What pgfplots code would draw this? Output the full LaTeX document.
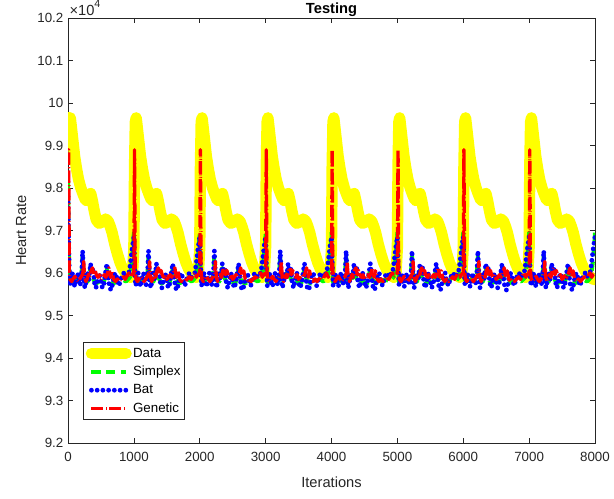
\documentclass[border=0pt]{standalone}
\usepackage{fontspec}
\setmainfont{Liberation Sans}
\usepackage{pgfplots}
\pgfplotsset{compat=1.18}
\usetikzlibrary{calc}
\definecolor{axgray}{gray}{0.15}
\begin{document}
\begin{tikzpicture}
\begin{axis}[
  name=ax,
  scale only axis,
  width=395.25pt, height=318.75pt,
  xmin=0, xmax=8000, ymin=9.2, ymax=10.2,
  xtick={0,1000,2000,3000,4000,5000,6000,7000,8000},
  xticklabels={0,1000,2000,3000,4000,5000,6000,7000,8000},
  ytick={9.2,9.3,9.4,9.5,9.6,9.7,9.8,9.9,10,10.1,10.2},
  yticklabels={9.2,9.3,9.4,9.5,9.6,9.7,9.8,9.9,10,10.1,10.2},
  tick align=inside, xtick pos=both, ytick pos=both,
  major tick length=3.75pt,
  axis line style={axgray, line width=0.5pt},
  every tick/.style={axgray, line width=0.5pt},
  ticklabel style={font=\fontsize{10}{12}\selectfont, text=axgray},
  xticklabel style={yshift=-3.5pt},
  legend image code/.code={\draw[#1] (0pt,0pt) -- (26pt,0pt);},
  legend cell align=left,
  legend style={at={(rel axis cs:0.028,0.054)}, anchor=south west, draw=axgray, line width=0.5pt, fill=white, font=\fontsize{10}{12}\selectfont, row sep=1.2pt, inner sep=2pt, nodes={inner xsep=1pt}},
]
\addplot[color={rgb,1:red,1;green,1;blue,0}, line width=8.5pt, line join=round, line cap=round] coordinates {
(0,9.965)(35,9.965)(50,9.945)(75,9.91)(100,9.875)(130,9.845)(160,9.82)(195,9.80)(230,9.785)(265,9.772)(295,9.77)(320,9.78)(345,9.787)(370,9.77)(400,9.745)(430,9.725)(470,9.717)(520,9.72)(570,9.727)(610,9.722)(640,9.71)(670,9.695)(710,9.668)(750,9.645)(790,9.625)(830,9.61)(870,9.60)(910,9.594)(945,9.59)(980,9.60)
(1000,9.66)(1010,9.85)(1022,9.955)(1035,9.965)(1050,9.945)(1075,9.91)(1100,9.875)(1130,9.845)(1160,9.82)(1195,9.80)(1230,9.785)(1265,9.772)(1295,9.77)(1320,9.78)(1345,9.787)(1370,9.77)(1400,9.745)(1430,9.725)(1470,9.717)(1520,9.72)(1570,9.727)(1610,9.722)(1640,9.71)(1670,9.695)(1710,9.668)(1750,9.645)(1790,9.625)(1830,9.61)(1870,9.60)(1910,9.594)(1945,9.59)(1980,9.60)
(2000,9.66)(2010,9.85)(2022,9.955)(2035,9.965)(2050,9.945)(2075,9.91)(2100,9.875)(2130,9.845)(2160,9.82)(2195,9.80)(2230,9.785)(2265,9.772)(2295,9.77)(2320,9.78)(2345,9.787)(2370,9.77)(2400,9.745)(2430,9.725)(2470,9.717)(2520,9.72)(2570,9.727)(2610,9.722)(2640,9.71)(2670,9.695)(2710,9.668)(2750,9.645)(2790,9.625)(2830,9.61)(2870,9.60)(2910,9.594)(2945,9.59)(2980,9.60)
(3000,9.66)(3010,9.85)(3022,9.955)(3035,9.965)(3050,9.945)(3075,9.91)(3100,9.875)(3130,9.845)(3160,9.82)(3195,9.80)(3230,9.785)(3265,9.772)(3295,9.77)(3320,9.78)(3345,9.787)(3370,9.77)(3400,9.745)(3430,9.725)(3470,9.717)(3520,9.72)(3570,9.727)(3610,9.722)(3640,9.71)(3670,9.695)(3710,9.668)(3750,9.645)(3790,9.625)(3830,9.61)(3870,9.60)(3910,9.594)(3945,9.59)(3980,9.60)
(4000,9.66)(4010,9.85)(4022,9.955)(4035,9.965)(4050,9.945)(4075,9.91)(4100,9.875)(4130,9.845)(4160,9.82)(4195,9.80)(4230,9.785)(4265,9.772)(4295,9.77)(4320,9.78)(4345,9.787)(4370,9.77)(4400,9.745)(4430,9.725)(4470,9.717)(4520,9.72)(4570,9.727)(4610,9.722)(4640,9.71)(4670,9.695)(4710,9.668)(4750,9.645)(4790,9.625)(4830,9.61)(4870,9.60)(4910,9.594)(4945,9.59)(4980,9.60)
(5000,9.66)(5010,9.85)(5022,9.955)(5035,9.965)(5050,9.945)(5075,9.91)(5100,9.875)(5130,9.845)(5160,9.82)(5195,9.80)(5230,9.785)(5265,9.772)(5295,9.77)(5320,9.78)(5345,9.787)(5370,9.77)(5400,9.745)(5430,9.725)(5470,9.717)(5520,9.72)(5570,9.727)(5610,9.722)(5640,9.71)(5670,9.695)(5710,9.668)(5750,9.645)(5790,9.625)(5830,9.61)(5870,9.60)(5910,9.594)(5945,9.59)(5980,9.60)
(6000,9.66)(6010,9.85)(6022,9.955)(6035,9.965)(6050,9.945)(6075,9.91)(6100,9.875)(6130,9.845)(6160,9.82)(6195,9.80)(6230,9.785)(6265,9.772)(6295,9.77)(6320,9.78)(6345,9.787)(6370,9.77)(6400,9.745)(6430,9.725)(6470,9.717)(6520,9.72)(6570,9.727)(6610,9.722)(6640,9.71)(6670,9.695)(6710,9.668)(6750,9.645)(6790,9.625)(6830,9.61)(6870,9.60)(6910,9.594)(6945,9.59)(6980,9.60)
(7000,9.66)(7010,9.85)(7022,9.955)(7035,9.965)(7050,9.945)(7075,9.91)(7100,9.875)(7130,9.845)(7160,9.82)(7195,9.80)(7230,9.785)(7265,9.772)(7295,9.77)(7320,9.78)(7345,9.787)(7370,9.77)(7400,9.745)(7430,9.725)(7470,9.717)(7520,9.72)(7570,9.727)(7610,9.722)(7640,9.71)(7670,9.695)(7710,9.668)(7750,9.645)(7790,9.625)(7830,9.61)(7870,9.60)(7910,9.594)(7945,9.588)(7980,9.585)(8000,9.585)
};
\addlegendentry{Data}
\addplot[color={rgb,1:red,0;green,1;blue,0}, line width=3pt, dash pattern=on 7pt off 4pt, line join=round] coordinates {
(0,9.815)(12,9.66)(25,9.578)(60,9.58)(100,9.585)(150,9.58)(200,9.585)(222,9.64)(240,9.585)(300,9.58)(342,9.612)(370,9.59)(420,9.575)(480,9.58)(540,9.575)(590,9.61)(620,9.585)(680,9.575)(750,9.58)(820,9.585)(880,9.58)(940,9.59)(970,9.63)(990,9.67)
(1000,9.695)(1012,9.62)(1025,9.578)(1060,9.58)(1100,9.585)(1150,9.58)(1200,9.585)(1222,9.64)(1240,9.585)(1300,9.58)(1342,9.612)(1370,9.59)(1420,9.575)(1480,9.58)(1540,9.575)(1590,9.61)(1620,9.585)(1680,9.575)(1750,9.58)(1820,9.585)(1880,9.58)(1940,9.59)(1970,9.63)(1990,9.67)
(2000,9.695)(2012,9.62)(2025,9.578)(2060,9.58)(2100,9.585)(2150,9.58)(2200,9.585)(2222,9.64)(2240,9.585)(2300,9.58)(2342,9.612)(2370,9.59)(2420,9.575)(2480,9.58)(2540,9.575)(2590,9.61)(2620,9.585)(2680,9.575)(2750,9.58)(2820,9.585)(2880,9.58)(2940,9.59)(2970,9.63)(2990,9.67)
(3000,9.695)(3012,9.62)(3025,9.578)(3060,9.58)(3100,9.585)(3150,9.58)(3200,9.585)(3222,9.64)(3240,9.585)(3300,9.58)(3342,9.612)(3370,9.59)(3420,9.575)(3480,9.58)(3540,9.575)(3590,9.61)(3620,9.585)(3680,9.575)(3750,9.58)(3820,9.585)(3880,9.58)(3940,9.59)(3970,9.63)(3990,9.67)
(4000,9.695)(4012,9.62)(4025,9.578)(4060,9.58)(4100,9.585)(4150,9.58)(4200,9.585)(4222,9.64)(4240,9.585)(4300,9.58)(4342,9.612)(4370,9.59)(4420,9.575)(4480,9.58)(4540,9.575)(4590,9.61)(4620,9.585)(4680,9.575)(4750,9.58)(4820,9.585)(4880,9.58)(4940,9.59)(4970,9.63)(4990,9.67)
(5000,9.695)(5012,9.62)(5025,9.578)(5060,9.58)(5100,9.585)(5150,9.58)(5200,9.585)(5222,9.64)(5240,9.585)(5300,9.58)(5342,9.612)(5370,9.59)(5420,9.575)(5480,9.58)(5540,9.575)(5590,9.61)(5620,9.585)(5680,9.575)(5750,9.58)(5820,9.585)(5880,9.58)(5940,9.59)(5970,9.63)(5990,9.67)
(6000,9.695)(6012,9.62)(6025,9.578)(6060,9.58)(6100,9.585)(6150,9.58)(6200,9.585)(6222,9.64)(6240,9.585)(6300,9.58)(6342,9.612)(6370,9.59)(6420,9.575)(6480,9.58)(6540,9.575)(6590,9.61)(6620,9.585)(6680,9.575)(6750,9.58)(6820,9.585)(6880,9.58)(6940,9.59)(6970,9.63)(6990,9.67)
(7000,9.695)(7012,9.62)(7025,9.578)(7060,9.58)(7100,9.585)(7150,9.58)(7200,9.585)(7222,9.64)(7240,9.585)(7300,9.58)(7342,9.612)(7370,9.59)(7420,9.575)(7480,9.58)(7540,9.575)(7590,9.61)(7620,9.585)(7680,9.575)(7750,9.58)(7820,9.585)(7880,9.58)(7940,9.59)(7970,9.63)(7990,9.67)
(8000,9.695)
};
\addlegendentry{Simplex}
\addplot[color={rgb,1:red,0;green,0;blue,1}, line width=3.6pt, line cap=round, dash pattern=on 0pt off 4.3pt, line join=round] coordinates {
(0,9.78)(12,9.66)(25,9.57)(45,9.58)(65,9.60)(85,9.578)(105,9.568)(125,9.588)(145,9.60)(165,9.582)(185,9.572)(205,9.59)(222,9.652)(238,9.59)(255,9.565)(275,9.58)(295,9.60)(318,9.585)(342,9.622)(362,9.60)(382,9.612)(402,9.577)(425,9.565)(450,9.585)(475,9.60)(500,9.58)(522,9.565)(545,9.575)(568,9.60)(590,9.622)(610,9.59)(632,9.565)(655,9.56)(678,9.575)(700,9.595)(725,9.60)(750,9.58)(775,9.57)(800,9.585)(825,9.597)(850,9.60)(875,9.59)(900,9.597)(925,9.60)(945,9.62)(960,9.64)(975,9.66)(990,9.675)
(1000,9.685)(1012,9.62)(1025,9.57)(1045,9.58)(1065,9.60)(1085,9.578)(1105,9.568)(1125,9.588)(1145,9.60)(1165,9.582)(1185,9.572)(1205,9.59)(1222,9.652)(1238,9.59)(1255,9.565)(1275,9.58)(1295,9.60)(1318,9.585)(1342,9.622)(1362,9.60)(1382,9.612)(1402,9.577)(1425,9.565)(1450,9.585)(1475,9.60)(1500,9.58)(1522,9.565)(1545,9.575)(1568,9.60)(1590,9.622)(1610,9.59)(1632,9.565)(1655,9.56)(1678,9.575)(1700,9.595)(1725,9.60)(1750,9.58)(1775,9.57)(1800,9.585)(1825,9.597)(1850,9.60)(1875,9.59)(1900,9.597)(1925,9.60)(1945,9.62)(1960,9.64)(1975,9.66)(1990,9.675)
(2000,9.685)(2012,9.62)(2025,9.57)(2045,9.58)(2065,9.60)(2085,9.578)(2105,9.568)(2125,9.588)(2145,9.60)(2165,9.582)(2185,9.572)(2205,9.59)(2222,9.652)(2238,9.59)(2255,9.565)(2275,9.58)(2295,9.60)(2318,9.585)(2342,9.622)(2362,9.60)(2382,9.612)(2402,9.577)(2425,9.565)(2450,9.585)(2475,9.60)(2500,9.58)(2522,9.565)(2545,9.575)(2568,9.60)(2590,9.622)(2610,9.59)(2632,9.565)(2655,9.56)(2678,9.575)(2700,9.595)(2725,9.60)(2750,9.58)(2775,9.57)(2800,9.585)(2825,9.597)(2850,9.60)(2875,9.59)(2900,9.597)(2925,9.60)(2945,9.62)(2960,9.64)(2975,9.66)(2990,9.675)
(3000,9.685)(3012,9.62)(3025,9.57)(3045,9.58)(3065,9.60)(3085,9.578)(3105,9.568)(3125,9.588)(3145,9.60)(3165,9.582)(3185,9.572)(3205,9.59)(3222,9.652)(3238,9.59)(3255,9.565)(3275,9.58)(3295,9.60)(3318,9.585)(3342,9.622)(3362,9.60)(3382,9.612)(3402,9.577)(3425,9.565)(3450,9.585)(3475,9.60)(3500,9.58)(3522,9.565)(3545,9.575)(3568,9.60)(3590,9.622)(3610,9.59)(3632,9.565)(3655,9.56)(3678,9.575)(3700,9.595)(3725,9.60)(3750,9.58)(3775,9.57)(3800,9.585)(3825,9.597)(3850,9.60)(3875,9.59)(3900,9.597)(3925,9.60)(3945,9.62)(3960,9.64)(3975,9.66)(3990,9.675)
(4000,9.685)(4012,9.62)(4025,9.57)(4045,9.58)(4065,9.60)(4085,9.578)(4105,9.568)(4125,9.588)(4145,9.60)(4165,9.582)(4185,9.572)(4205,9.59)(4222,9.652)(4238,9.59)(4255,9.565)(4275,9.58)(4295,9.60)(4318,9.585)(4342,9.622)(4362,9.60)(4382,9.612)(4402,9.577)(4425,9.565)(4450,9.585)(4475,9.60)(4500,9.58)(4522,9.565)(4545,9.575)(4568,9.60)(4590,9.622)(4610,9.59)(4632,9.565)(4655,9.56)(4678,9.575)(4700,9.595)(4725,9.60)(4750,9.58)(4775,9.57)(4800,9.585)(4825,9.597)(4850,9.60)(4875,9.59)(4900,9.597)(4925,9.60)(4945,9.62)(4960,9.64)(4975,9.66)(4990,9.675)
(5000,9.685)(5012,9.62)(5025,9.57)(5045,9.58)(5065,9.60)(5085,9.578)(5105,9.568)(5125,9.588)(5145,9.60)(5165,9.582)(5185,9.572)(5205,9.59)(5222,9.652)(5238,9.59)(5255,9.565)(5275,9.58)(5295,9.60)(5318,9.585)(5342,9.622)(5362,9.60)(5382,9.612)(5402,9.577)(5425,9.565)(5450,9.585)(5475,9.60)(5500,9.58)(5522,9.565)(5545,9.575)(5568,9.60)(5590,9.622)(5610,9.59)(5632,9.565)(5655,9.56)(5678,9.575)(5700,9.595)(5725,9.60)(5750,9.58)(5775,9.57)(5800,9.585)(5825,9.597)(5850,9.60)(5875,9.59)(5900,9.597)(5925,9.60)(5945,9.62)(5960,9.64)(5975,9.66)(5990,9.675)
(6000,9.685)(6012,9.62)(6025,9.57)(6045,9.58)(6065,9.60)(6085,9.578)(6105,9.568)(6125,9.588)(6145,9.60)(6165,9.582)(6185,9.572)(6205,9.59)(6222,9.652)(6238,9.59)(6255,9.565)(6275,9.58)(6295,9.60)(6318,9.585)(6342,9.622)(6362,9.60)(6382,9.612)(6402,9.577)(6425,9.565)(6450,9.585)(6475,9.60)(6500,9.58)(6522,9.565)(6545,9.575)(6568,9.60)(6590,9.622)(6610,9.59)(6632,9.565)(6655,9.56)(6678,9.575)(6700,9.595)(6725,9.60)(6750,9.58)(6775,9.57)(6800,9.585)(6825,9.597)(6850,9.60)(6875,9.59)(6900,9.597)(6925,9.60)(6945,9.62)(6960,9.64)(6975,9.66)(6990,9.675)
(7000,9.685)(7012,9.62)(7025,9.57)(7045,9.58)(7065,9.60)(7085,9.578)(7105,9.568)(7125,9.588)(7145,9.60)(7165,9.582)(7185,9.572)(7205,9.59)(7222,9.652)(7238,9.59)(7255,9.565)(7275,9.58)(7295,9.60)(7318,9.585)(7342,9.622)(7362,9.60)(7382,9.612)(7402,9.577)(7425,9.565)(7450,9.585)(7475,9.60)(7500,9.58)(7522,9.565)(7545,9.575)(7568,9.60)(7590,9.622)(7610,9.59)(7632,9.565)(7655,9.56)(7678,9.575)(7700,9.595)(7725,9.60)(7750,9.58)(7775,9.57)(7800,9.585)(7825,9.597)(7850,9.60)(7875,9.59)(7900,9.597)(7925,9.60)(7945,9.62)(7960,9.64)(7975,9.66)(7990,9.675)
(8000,9.685)
};
\addlegendentry{Bat}
\addplot[color={rgb,1:red,1;green,0;blue,0}, line width=2.5pt, dash pattern=on 9pt off 2pt on 0.5pt off 2pt, line join=round] coordinates {
(0,9.60)(10,9.89)(20,9.605)(32,9.585)(55,9.58)(80,9.587)(105,9.592)(130,9.585)(155,9.58)(180,9.586)(205,9.592)(225,9.598)(238,9.627)(252,9.59)(272,9.58)(292,9.587)(312,9.597)(332,9.59)(352,9.606)(372,9.612)(392,9.596)(412,9.606)(432,9.595)(455,9.59)(478,9.596)(500,9.585)(525,9.59)(550,9.596)(575,9.59)(600,9.60)(622,9.612)(645,9.59)(668,9.605)(690,9.586)(720,9.58)(750,9.586)(780,9.58)(810,9.586)(840,9.591)(870,9.585)(900,9.595)(925,9.60)(950,9.59)(975,9.597)
(1000,9.60)(1010,9.89)(1020,9.605)(1032,9.585)(1055,9.58)(1080,9.587)(1105,9.592)(1130,9.585)(1155,9.58)(1180,9.586)(1205,9.592)(1225,9.598)(1238,9.627)(1252,9.59)(1272,9.58)(1292,9.587)(1312,9.597)(1332,9.59)(1352,9.606)(1372,9.612)(1392,9.596)(1412,9.606)(1432,9.595)(1455,9.59)(1478,9.596)(1500,9.585)(1525,9.59)(1550,9.596)(1575,9.59)(1600,9.60)(1622,9.612)(1645,9.59)(1668,9.605)(1690,9.586)(1720,9.58)(1750,9.586)(1780,9.58)(1810,9.586)(1840,9.591)(1870,9.585)(1900,9.595)(1925,9.60)(1950,9.59)(1975,9.597)
(2000,9.60)(2010,9.89)(2020,9.605)(2032,9.585)(2055,9.58)(2080,9.587)(2105,9.592)(2130,9.585)(2155,9.58)(2180,9.586)(2205,9.592)(2225,9.598)(2238,9.627)(2252,9.59)(2272,9.58)(2292,9.587)(2312,9.597)(2332,9.59)(2352,9.606)(2372,9.612)(2392,9.596)(2412,9.606)(2432,9.595)(2455,9.59)(2478,9.596)(2500,9.585)(2525,9.59)(2550,9.596)(2575,9.59)(2600,9.60)(2622,9.612)(2645,9.59)(2668,9.605)(2690,9.586)(2720,9.58)(2750,9.586)(2780,9.58)(2810,9.586)(2840,9.591)(2870,9.585)(2900,9.595)(2925,9.60)(2950,9.59)(2975,9.597)
(3000,9.60)(3010,9.89)(3020,9.605)(3032,9.585)(3055,9.58)(3080,9.587)(3105,9.592)(3130,9.585)(3155,9.58)(3180,9.586)(3205,9.592)(3225,9.598)(3238,9.627)(3252,9.59)(3272,9.58)(3292,9.587)(3312,9.597)(3332,9.59)(3352,9.606)(3372,9.612)(3392,9.596)(3412,9.606)(3432,9.595)(3455,9.59)(3478,9.596)(3500,9.585)(3525,9.59)(3550,9.596)(3575,9.59)(3600,9.60)(3622,9.612)(3645,9.59)(3668,9.605)(3690,9.586)(3720,9.58)(3750,9.586)(3780,9.58)(3810,9.586)(3840,9.591)(3870,9.585)(3900,9.595)(3925,9.60)(3950,9.59)(3975,9.597)
(4000,9.60)(4010,9.89)(4020,9.605)(4032,9.585)(4055,9.58)(4080,9.587)(4105,9.592)(4130,9.585)(4155,9.58)(4180,9.586)(4205,9.592)(4225,9.598)(4238,9.627)(4252,9.59)(4272,9.58)(4292,9.587)(4312,9.597)(4332,9.59)(4352,9.606)(4372,9.612)(4392,9.596)(4412,9.606)(4432,9.595)(4455,9.59)(4478,9.596)(4500,9.585)(4525,9.59)(4550,9.596)(4575,9.59)(4600,9.60)(4622,9.612)(4645,9.59)(4668,9.605)(4690,9.586)(4720,9.58)(4750,9.586)(4780,9.58)(4810,9.586)(4840,9.591)(4870,9.585)(4900,9.595)(4925,9.60)(4950,9.59)(4975,9.597)
(5000,9.60)(5010,9.89)(5020,9.605)(5032,9.585)(5055,9.58)(5080,9.587)(5105,9.592)(5130,9.585)(5155,9.58)(5180,9.586)(5205,9.592)(5225,9.598)(5238,9.627)(5252,9.59)(5272,9.58)(5292,9.587)(5312,9.597)(5332,9.59)(5352,9.606)(5372,9.612)(5392,9.596)(5412,9.606)(5432,9.595)(5455,9.59)(5478,9.596)(5500,9.585)(5525,9.59)(5550,9.596)(5575,9.59)(5600,9.60)(5622,9.612)(5645,9.59)(5668,9.605)(5690,9.586)(5720,9.58)(5750,9.586)(5780,9.58)(5810,9.586)(5840,9.591)(5870,9.585)(5900,9.595)(5925,9.60)(5950,9.59)(5975,9.597)
(6000,9.60)(6010,9.89)(6020,9.605)(6032,9.585)(6055,9.58)(6080,9.587)(6105,9.592)(6130,9.585)(6155,9.58)(6180,9.586)(6205,9.592)(6225,9.598)(6238,9.627)(6252,9.59)(6272,9.58)(6292,9.587)(6312,9.597)(6332,9.59)(6352,9.606)(6372,9.612)(6392,9.596)(6412,9.606)(6432,9.595)(6455,9.59)(6478,9.596)(6500,9.585)(6525,9.59)(6550,9.596)(6575,9.59)(6600,9.60)(6622,9.612)(6645,9.59)(6668,9.605)(6690,9.586)(6720,9.58)(6750,9.586)(6780,9.58)(6810,9.586)(6840,9.591)(6870,9.585)(6900,9.595)(6925,9.60)(6950,9.59)(6975,9.597)
(7000,9.60)(7010,9.89)(7020,9.605)(7032,9.585)(7055,9.58)(7080,9.587)(7105,9.592)(7130,9.585)(7155,9.58)(7180,9.586)(7205,9.592)(7225,9.598)(7238,9.627)(7252,9.59)(7272,9.58)(7292,9.587)(7312,9.597)(7332,9.59)(7352,9.606)(7372,9.612)(7392,9.596)(7412,9.606)(7432,9.595)(7455,9.59)(7478,9.596)(7500,9.585)(7525,9.59)(7550,9.596)(7575,9.59)(7600,9.60)(7622,9.612)(7645,9.59)(7668,9.605)(7690,9.586)(7720,9.58)(7750,9.586)(7780,9.58)(7810,9.586)(7840,9.591)(7870,9.585)(7900,9.595)(7925,9.60)(7950,9.59)(7975,9.597)
(8000,9.60)
};
\addlegendentry{Genetic}
\coordinate (bl) at (rel axis cs:0,0);
\coordinate (tr) at (rel axis cs:1,1);
\end{axis}
\node[anchor=base, inner sep=0pt, text=black, font=\fontsize{11}{13}\selectfont\bfseries] at ($(bl |- tr)!0.5!(tr)+(0,3.5pt)$) {Testing};
\node[anchor=base west, inner sep=0pt, text=axgray] at ($(bl |- tr)+(1pt,2pt)$) {\fontsize{11}{13}\selectfont ×10\raisebox{0.55em}{\fontsize{8}{9}\selectfont 4}};
\node[anchor=base, inner sep=0pt, text=axgray, font=\fontsize{11}{13}\selectfont] at ($(bl)!0.5!(bl -| tr)+(0,-33.5pt)$) {Iterations};
\node[anchor=base, rotate=90, inner sep=0pt, text=axgray, font=\fontsize{11}{13}\selectfont] at ($(bl)!0.5!(bl |- tr)+(-31.5pt,0)$) {Heart Rate};
\pgfresetboundingbox
\useasboundingbox ($(bl)+(-51pt,-41.25pt)$) rectangle ($(tr)+(14.25pt,13.5pt)$);
\end{tikzpicture}
\end{document}
